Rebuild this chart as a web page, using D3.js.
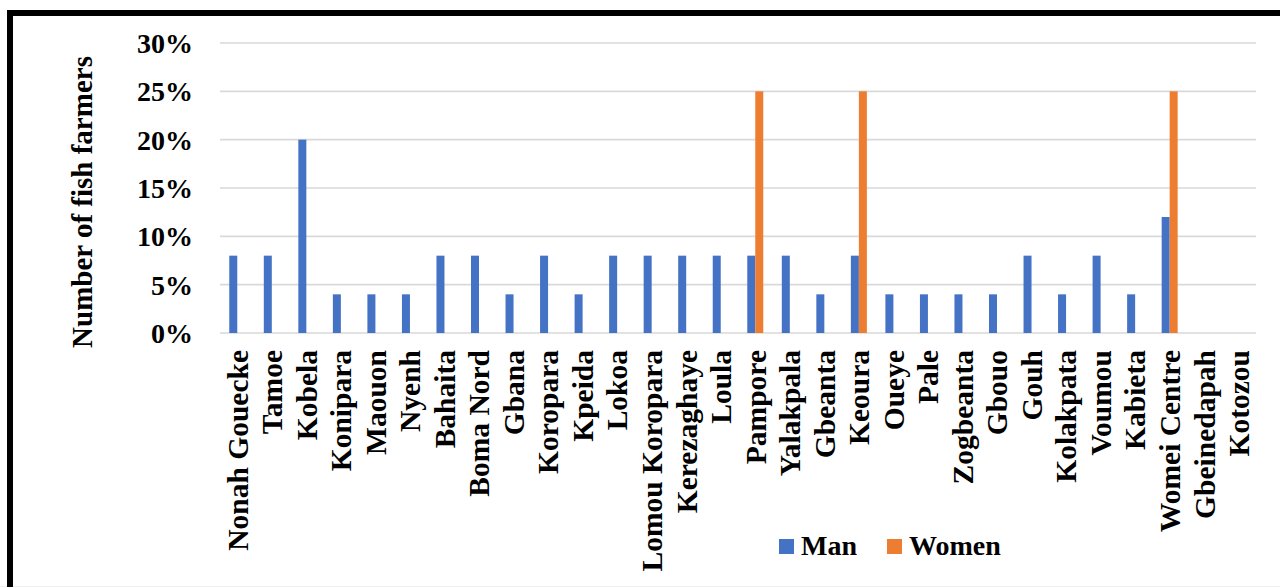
<!DOCTYPE html>
<html>
<head>
<meta charset="utf-8">
<script src="https://cdn.jsdelivr.net/npm/d3@7"></script>
<style>
  html, body { margin: 0; padding: 0; background: #fff; }
  svg { display: block; }
  text { font-family: "Liberation Serif", "Times New Roman", serif; font-weight: bold; fill: #000; }
</style>
</head>
<body>
<svg id="chart" width="1280" height="587"></svg>
<script>
// Villages surveyed
const villages = [
  "Nonah Gouecke", "Tamoe", "Kobela", "Konipara", "Maouon", "Nyenh", "Bahaita",
  "Boma Nord", "Gbana", "Koropara", "Kpeida", "Lokoa", "Lomou Koropara",
  "Kerezaghaye", "Loula", "Pampore", "Yalakpala", "Gbeanta", "Keoura", "Oueye",
  "Pale", "Zogbeanta", "Gbouo", "Gouh", "Kolakpata", "Voumou", "Kabieta",
  "Womei Centre", "Gbeinedapah", "Kotozou"
];
// Share of fish farmers (%) by sex
const manPct = [8, 8, 20, 4, 4, 4, 8, 8, 4, 8, 4, 8, 8, 8, 8, 8, 8, 4, 8, 4, 4, 4, 4, 8, 4, 8, 4, 12, 0, 0];
const womenPct = [0, 0, 0, 0, 0, 0, 0, 0, 0, 0, 0, 0, 0, 0, 0, 25, 0, 0, 25, 0, 0, 0, 0, 0, 0, 0, 0, 25, 0, 0];
const seriesNames = ["Man", "Women"];
const yTicks = [0, 5, 10, 15, 20, 25, 30];

const colors = { Man: "#4472C4", Women: "#ED7D31" };

const svg = d3.select("#chart");
const plot = { left: 220, right: 1256, top: 43, bottom: 333 };

const rows = villages.map((v, i) => ({ village: v, Man: manPct[i], Women: womenPct[i] }));

const x = d3.scaleBand().domain(villages).range([plot.left, plot.right]).padding(0);
const barW = 8;
const x1 = d3.scaleBand().domain(seriesNames)
  .range([x.bandwidth() / 2 - barW, x.bandwidth() / 2 + barW]).padding(0);
const y = d3.scaleLinear().domain([0, 30]).range([plot.bottom, plot.top]);

// Gridlines
svg.append("g")
  .selectAll("line")
  .data(yTicks)
  .join("line")
  .attr("x1", plot.left).attr("x2", plot.right)
  .attr("y1", d => y(d)).attr("y2", d => y(d))
  .attr("stroke", "#d9d9d9").attr("stroke-width", 1.6);

// Y axis tick labels
const yAxis = d3.axisLeft(y).tickValues(yTicks).tickFormat(d => d + "%").tickSize(0).tickPadding(0);
const gy = svg.append("g").attr("transform", `translate(193,0)`).call(yAxis);
gy.select(".domain").remove();
gy.selectAll("text")
  .attr("font-size", 28)
  .attr("font-family", "Liberation Serif, Times New Roman, serif")
  .attr("font-weight", "bold")
  .attr("fill", "#000")
  .attr("dy", "0.34em");

// Bars
const groups = svg.append("g")
  .selectAll("g")
  .data(rows)
  .join("g")
  .attr("transform", d => `translate(${x(d.village)},0)`);

groups.selectAll("rect")
  .data(d => seriesNames.map(k => ({ key: k, value: d[k] })).filter(e => e.value > 0))
  .join("rect")
  .attr("x", d => x1(d.key))
  .attr("width", x1.bandwidth())
  .attr("y", d => y(d.value))
  .attr("height", d => y(0) - y(d.value))
  .attr("fill", d => colors[d.key]);

// Category labels (rotated)
const xAxis = d3.axisBottom(x).tickSize(0).tickPadding(0);
const gx = svg.append("g").attr("transform", `translate(0,${plot.bottom})`).call(xAxis);
gx.select(".domain").remove();
gx.selectAll("text")
  .attr("font-size", 29.5)
  .attr("font-family", "Liberation Serif, Times New Roman, serif")
  .attr("font-weight", "bold")
  .attr("fill", "#000")
  .attr("text-anchor", "end")
  .attr("transform", "translate(0,17) rotate(-90)")
  .attr("x", 0).attr("y", 0).attr("dy", "0.35em");

// Y axis title
svg.append("text")
  .attr("transform", "translate(92,202) rotate(-90)")
  .attr("text-anchor", "middle")
  .attr("font-size", 29)
  .text("Number of fish farmers");

// Legend
const legendX = [779, 887];
const legend = svg.append("g")
  .selectAll("g")
  .data(seriesNames)
  .join("g")
  .attr("transform", (d, i) => `translate(${legendX[i]},539)`);
legend.append("rect").attr("width", 15).attr("height", 15).attr("fill", d => colors[d]);
legend.append("text").attr("x", 22).attr("y", 16).attr("font-size", 28).text(d => d);

// Frame
svg.append("line").attr("x1", 0).attr("x2", 1280).attr("y1", 586.5).attr("y2", 586.5)
  .attr("stroke", "#efefef").attr("stroke-width", 1);
svg.append("rect")
  .attr("x", 10).attr("y", 13).attr("width", 1300).attr("height", 620)
  .attr("fill", "none").attr("stroke", "#000").attr("stroke-width", 6);
</script>
</body>
</html>
